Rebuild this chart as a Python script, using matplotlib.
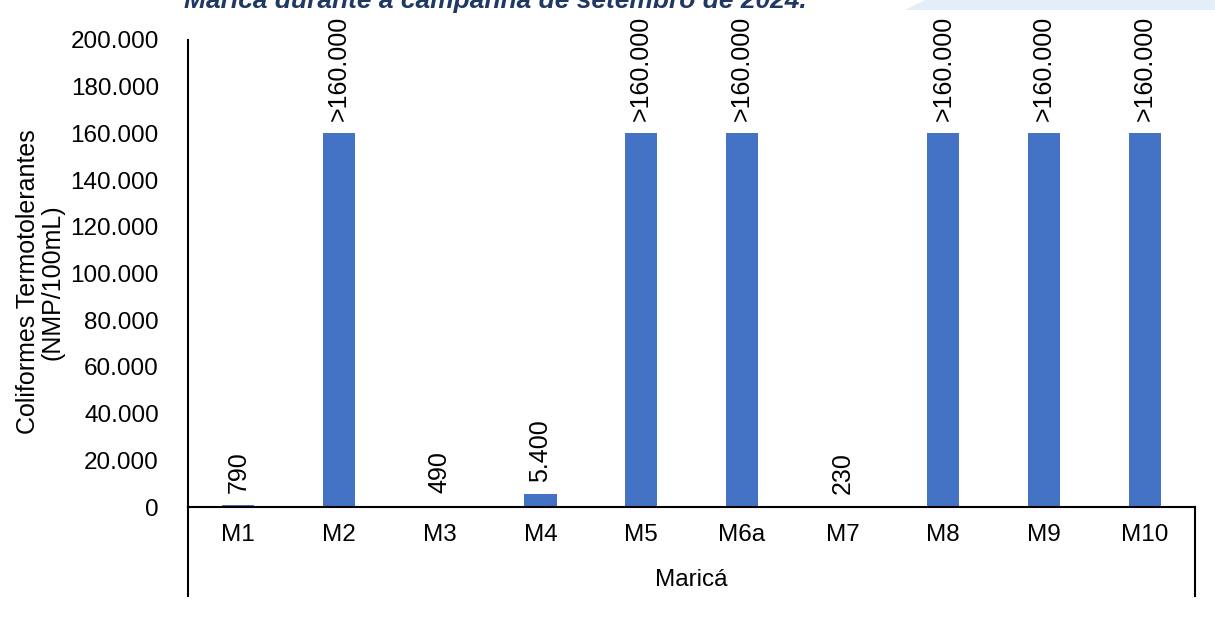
import matplotlib.pyplot as plt
from matplotlib.patches import Polygon

plt.rcParams['font.family'] = ['Liberation Sans', 'DejaVu Sans']

pontos = ['M1', 'M2', 'M3', 'M4', 'M5', 'M6a', 'M7', 'M8', 'M9', 'M10']
valores = [790, 160000, 490, 5400, 160000, 160000, 230, 160000, 160000, 160000]
rotulos = ['790', '>160.000', '490', '5.400', '>160.000', '>160.000', '230',
           '>160.000', '>160.000', '>160.000']
yticks = [0, 20000, 40000, 60000, 80000, 100000, 120000, 140000, 160000, 180000, 200000]

fig = plt.figure(figsize=(12.15, 6.25), dpi=100)
ax = fig.add_axes([188 / 1215, 1 - 507 / 625, (1195 - 188) / 1215, (507 - 40) / 625])

x = list(range(len(pontos)))
ax.bar(x, valores, width=0.32, color='#4472C4')

for xi, v, r in zip(x, valores, rotulos):
    ax.annotate(r, (xi, v), xytext=(0, 9), textcoords='offset points',
                rotation=90, ha='center', va='bottom', fontsize=18, color='black')

ax.set_xlim(-0.5, len(pontos) - 0.5)
ax.set_ylim(0, 200000)
ax.set_yticks(yticks)
ax.set_yticklabels([f'{t:,}'.replace(',', '.') for t in yticks], fontsize=17.5)
ax.set_xticks(x)
ax.set_xticklabels(pontos, fontsize=17.5)
ax.tick_params(axis='y', length=0, pad=21)
ax.tick_params(axis='x', length=0, pad=12)

for s in ['top', 'right']:
    ax.spines[s].set_visible(False)
ax.spines['left'].set_linewidth(1.5)
ax.spines['bottom'].set_linewidth(1.5)

# group bracket lines below the x axis
drop = -(596 - 507) / (507 - 40)
ax.plot([0, 0], [0, drop], transform=ax.transAxes, color='black', lw=1.5, clip_on=False)
ax.plot([1, 1], [0, drop], transform=ax.transAxes, color='black', lw=1.5, clip_on=False)
ax.text(0.5, -(580 - 507) / (507 - 40), 'Maricá', transform=ax.transAxes,
        ha='center', va='center', fontsize=17.5)

fig.text(40 / 1215, 1 - 282 / 625, 'Coliformes Termotolerantes\n(NMP/100mL)',
         rotation=90, ha='center', va='center', fontsize=18, linespacing=1.0)

# cut-off title and decoration at top
fig.text(495 / 1215, 1 - 8 / 625, 'Maricá durante a campanha de setembro de 2024.',
         ha='center', va='baseline', fontsize=19, fontweight='bold', fontstyle='italic',
         color='#1F3864')
fig.patches.append(Polygon([(905 / 1215, 1 - 10 / 625), (925 / 1215, 1.0), (1.0, 1.0),
                            (1.0, 1 - 10 / 625)], closed=True, transform=fig.transFigure,
                           facecolor='#E4EEF9', edgecolor='none'))

fig.savefig('out.png', dpi=100)
